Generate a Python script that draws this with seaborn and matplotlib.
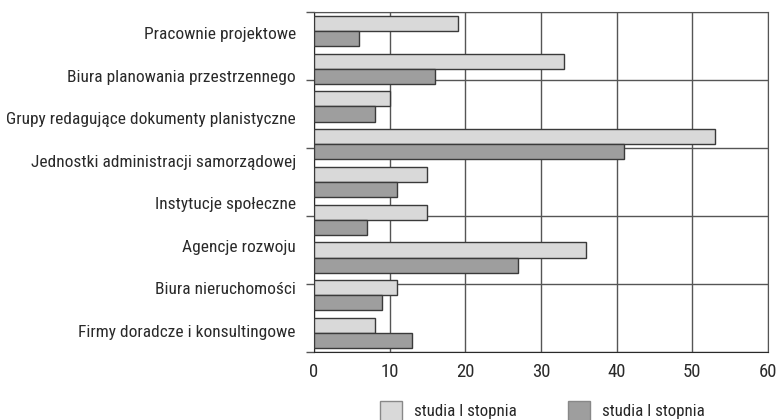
import pandas as pd
import matplotlib
matplotlib.use("Agg")
import matplotlib.pyplot as plt
from matplotlib import font_manager
from matplotlib.patches import Patch
import seaborn as sns

# --- data ---
etykiety = [
    "Pracownie projektowe",
    "Biura planowania przestrzennego",
    "Grupy redagujące dokumenty planistyczne",
    "Jednostki administracji samorządowej",
    "Instytucje społeczne",
    "Agencje rozwoju",
    "Biura nieruchomości",
    "Firmy doradcze i konsultingowe",
]
# the picture has nine bar pairs drawn under eight labels
grupy = list(range(9))
seria_1 = [19, 33, 10, 53, 15, 15, 36, 11, 8]
seria_2 = [6, 16, 8, 41, 11, 7, 27, 9, 13]
nazwy_serii = ["studia I stopnia", "studia I stopnia "]
x_ticks = [0, 10, 20, 30, 40, 50, 60]

df = pd.DataFrame({
    "grupa": grupy * 2,
    "wartosc": seria_1 + seria_2,
    "seria": [nazwy_serii[0]] * 9 + [nazwy_serii[1]] * 9,
})

sns.set_style("white")

# narrow font if there is one, otherwise Liberation Sans a bit smaller
dostepne = {f.name for f in font_manager.fontManager.ttflist}
rozmiar = 11.3
czcionka = "Liberation Sans"
for nazwa in ["Liberation Sans Narrow", "Roboto Condensed", "Arial Narrow"]:
    if nazwa in dostepne:
        czcionka = nazwa
        rozmiar = 12.5
        break
plt.rcParams["font.family"] = [czcionka, "DejaVu Sans"]
plt.rcParams["font.size"] = rozmiar

kolory = ["#d9d9d9", "#9e9e9e"]
siatka = "#555555"
tekst = "#2a2a2a"

fig = plt.figure(figsize=(7.78, 4.2), dpi=100)
ax = fig.add_axes([0.4036, 0.162, 0.5835, 0.8095])

# grid axis (behind the bars)
ax.set_xlim(0, 60)
ax.set_ylim(0, 5)
ax.set_xticks(x_ticks)
ax.set_yticks(range(6))
ax.set_yticklabels([])
ax.grid(True, color=siatka, linewidth=1)
ax.tick_params(axis="y", length=6, color=siatka, width=1)
ax.tick_params(axis="x", length=5, color=siatka, width=1, direction="out",
               labelsize=rozmiar + 1, labelcolor=tekst, pad=3)
for s in ["top", "right"]:
    ax.spines[s].set_color(siatka)
for s in ["left", "bottom"]:
    ax.spines[s].set_color(tekst)

# bars
axb = ax.twinx()
sns.barplot(data=df, x="wartosc", y="grupa", hue="seria", orient="h",
            palette=kolory, edgecolor="#3a3a3a", linewidth=1,
            width=0.8, legend=False, ax=axb)
axb.set_xlim(0, 60)
axb.set_ylim(8.5, -0.5)
axb.set_yticks([])
axb.set_xlabel("")
axb.set_ylabel("")
for s in axb.spines.values():
    s.set_visible(False)

# category labels, evenly spread over the plot height
axl = ax.twinx()
axl.set_ylim(8, 0)
axl.set_yticks([i + 0.5 for i in range(8)])
axl.set_yticklabels(etykiety, color=tekst)
axl.yaxis.tick_left()
axl.tick_params(axis="y", length=0, pad=13, labelsize=rozmiar)
for s in axl.spines.values():
    s.set_visible(False)

uchwyty = [Patch(facecolor=kolory[0], edgecolor="#888888"),
           Patch(facecolor=kolory[1], edgecolor="#888888")]
fig.legend(uchwyty, ["studia I stopnia", "studia I stopnia"],
           loc="center", bbox_to_anchor=(0.697, 0.022), ncol=2, frameon=False,
           handlelength=1.32, handleheight=1.4, handletextpad=0.7,
           columnspacing=3.0, fontsize=rozmiar - 0.3)

fig.savefig("out.png", dpi=100)
